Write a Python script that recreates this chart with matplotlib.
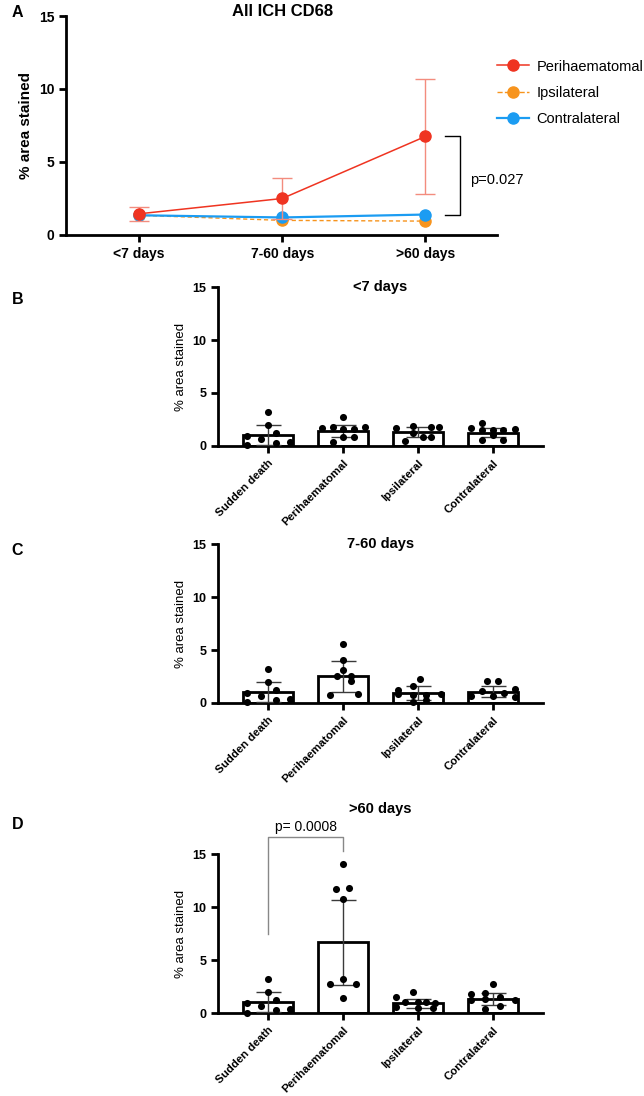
import numpy as np
import matplotlib
matplotlib.use("Agg")
import matplotlib.pyplot as plt
from matplotlib.lines import Line2D

plt.rcParams['font.family'] = ['Liberation Sans', 'DejaVu Sans']

# panel A: group means over time
timepoints = ['<7 days', '7-60 days', '>60 days']
peri_mean = [1.45, 2.5, 6.75]
peri_sd = [0.5, 1.4, 3.95]
ipsi_mean = [1.35, 1.0, 0.95]
contra_mean = [1.35, 1.2, 1.4]

# panels B-D: bar + individual points
groups = ['Sudden death', 'Perihaematomal', 'Ipsilateral', 'Contralateral']

sudden_pts = [3.2, 2.0, 0.94, 1.22, 0.63, 0.4, 0.3, 0.05]
sudden_dx = [0, 0, -0.28, 0.1, -0.09, 0.29, 0.1, -0.28]

lt7_means = [1.03, 1.42, 1.3, 1.26]
lt7_sd = [0.97, 0.55, 0.5, 0.45]
lt7_pts = [
    sudden_pts,
    [2.74, 1.67, 1.82, 1.57, 1.57, 1.82, 0.41, 0.88, 0.88],
    [1.73, 1.89, 1.82, 1.82, 0.5, 1.2, 0.88, 0.88],
    [1.7, 2.17, 1.48, 1.54, 1.54, 1.57, 0.6, 1.0, 0.6],
]
lt7_dx = [
    sudden_dx,
    [0, -0.28, -0.14, 0, 0.15, 0.29, -0.14, 0, 0.15],
    [-0.29, -0.07, 0.17, 0.28, -0.18, -0.07, 0.06, 0.17],
    [-0.29, -0.15, -0.15, 0, 0.14, 0.29, -0.15, 0, 0.14],
]

mid_means = [1.03, 2.5, 0.94, 1.07]
mid_sd = [0.97, 1.42, 0.7, 0.5]
mid_pts = [
    sudden_pts,
    [5.59, 4.02, 3.07, 2.51, 2.51, 2.04, 0.78, 0.85],
    [2.26, 1.57, 1.26, 0.88, 0.8, 0.78, 0.75, 0.31, 0.06],
    [2.04, 2.04, 1.1, 0.69, 0.91, 1.32, 0.63, 0.53],
]
mid_dx = [
    sudden_dx,
    [0, 0, 0, -0.08, 0.1, 0.1, -0.18, 0.2],
    [0.02, -0.07, -0.27, 0.31, -0.27, -0.07, 0.11, 0.11, -0.07],
    [-0.08, 0.07, -0.15, 0, 0.15, 0.29, -0.29, 0.29],
]

gt60_means = [1.03, 6.68, 0.9, 1.35]
gt60_sd = [0.97, 4.0, 0.45, 0.55]
gt60_pts = [
    sudden_pts,
    [14.04, 11.69, 11.82, 10.8, 3.23, 2.73, 2.7, 1.44],
    [1.97, 1.47, 1.0, 1.0, 1.0, 0.9, 0.6, 0.5, 0.45],
    [2.7, 1.82, 1.91, 1.35, 1.5, 1.25, 1.19, 0.41, 0.63],
]
gt60_dx = [
    sudden_dx,
    [0, -0.09, 0.08, 0, 0, -0.18, 0.17, 0],
    [-0.07, -0.29, -0.18, 0.0, 0.11, 0.22, -0.29, 0.0, 0.2],
    [0, -0.3, -0.1, -0.1, 0.09, 0.29, -0.3, -0.1, 0.09],
]

RED = '#EF3421'
ORANGE = '#F7941D'
BLUE = '#1B9CF2'


def style_axis(ax, fs, xfs=None):
    for s in ['top', 'right']:
        ax.spines[s].set_visible(False)
    for s in ['left', 'bottom']:
        ax.spines[s].set_linewidth(2)
    ax.tick_params(width=2, length=5, labelsize=fs)
    if xfs is not None:
        ax.tick_params(axis='x', labelsize=xfs)
    for lab in ax.get_xticklabels() + ax.get_yticklabels():
        lab.set_fontweight('bold')


fig = plt.figure(figsize=(6.44, 10.96), dpi=100)

# ---- A ----
axA = fig.add_axes([0.1025, 0.7856, 0.6693, 0.1998])
x = np.arange(len(timepoints))
axA.plot(x, ipsi_mean, color=ORANGE, lw=1, ls='--', dashes=(3, 2),
         marker='o', ms=8, zorder=3)
axA.plot(x, contra_mean, color=BLUE, lw=1.6, marker='o', ms=8, zorder=4)
axA.errorbar(x, peri_mean, yerr=peri_sd, color=RED, lw=1.1, marker='o', ms=8,
             ecolor='#F38C7E', elinewidth=1, capsize=7, capthick=1, zorder=5)
axA.set_xlim(-0.51, 2.5)
axA.set_ylim(0, 15)
axA.set_yticks([0, 5, 10, 15])
axA.set_xticks(x)
axA.set_xticklabels(timepoints)
axA.set_ylabel('% area stained', fontsize=11, fontweight='bold')
axA.text(1, 15.3, 'All ICH CD68', fontsize=12, fontweight='bold',
         ha='center', va='center', clip_on=False)
style_axis(axA, 10)

# bracket + p value
axA.plot([2.14, 2.24, 2.24, 2.14], [6.75, 6.75, 1.4, 1.4], color='black',
         lw=1, clip_on=False)
axA.text(2.31, 3.8, 'p=0.027', fontsize=10.5, va='center', ha='left')

handles = [
    Line2D([], [], color=RED, marker='o', ms=8, lw=1.1),
    Line2D([], [], color=ORANGE, marker='o', ms=8, lw=1, ls='--'),
    Line2D([], [], color=BLUE, marker='o', ms=8, lw=1.6),
]
fig.legend(handles, ['Perihaematomal', 'Ipsilateral', 'Contralateral'],
           loc='upper left', bbox_to_anchor=(0.762, 0.951), frameon=False,
           fontsize=10.5, handlelength=2.2, labelspacing=0.85,
           borderaxespad=0, handletextpad=0.55)


def bar_panel(rect, title, means, sd, pts, dx, title_y=15):
    ax = fig.add_axes(rect)
    xs = np.arange(len(groups))
    ax.bar(xs, means, width=0.667, color='white', edgecolor='black',
           linewidth=2, zorder=2)
    for i in xs:
        ax.scatter(np.array(dx[i]) + i, pts[i], s=26, color='black',
                   zorder=4, clip_on=False, linewidths=0)
    ax.errorbar(xs, means, yerr=sd, fmt='none', ecolor='#3a3a3a',
                elinewidth=1, capsize=9, capthick=1, zorder=3)
    ax.set_xlim(-0.667, 3.667)
    ax.set_ylim(0, 15)
    ax.set_yticks([0, 5, 10, 15])
    ax.set_xticks(xs)
    ax.set_xticklabels(groups, rotation=45, ha='right',
                       rotation_mode='anchor')
    ax.set_ylabel('% area stained', fontsize=9.5)
    ax.text(1.5, title_y, title, fontsize=10.5, fontweight='bold',
            ha='center', va='center', clip_on=False)
    style_axis(ax, 9, xfs=8.2)
    return ax


axB = bar_panel([0.3385, 0.5931, 0.5047, 0.145], '<7 days',
                lt7_means, lt7_sd, lt7_pts, lt7_dx)
axC = bar_panel([0.3385, 0.3586, 0.5047, 0.145], '7-60 days',
                mid_means, mid_sd, mid_pts, mid_dx)
axD = bar_panel([0.3385, 0.0757, 0.5047, 0.145], '>60 days',
                gt60_means, gt60_sd, gt60_pts, gt60_dx, title_y=19.3)

# significance bracket in D
axD.plot([0, 0, 1, 1], [7.5, 16.6, 16.6, 15.3], color='#888888', lw=1,
         clip_on=False)
axD.text(0.5, 16.9, 'p= 0.0008', ha='center', va='bottom', fontsize=10)

for letter, yy in [('A', 0.995), ('B', 0.734), ('C', 0.505), ('D', 0.255)]:
    fig.text(0.018, yy, letter, fontsize=11.5, fontweight='bold',
             va='top', ha='left')

fig.savefig('out.png', dpi=100)
